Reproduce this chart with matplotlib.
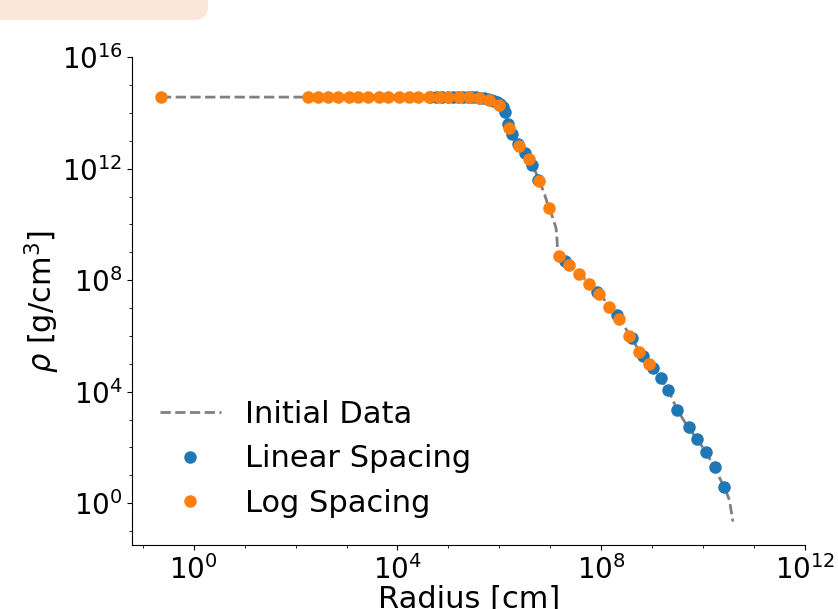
import numpy as np
import matplotlib
matplotlib.use("Agg")
import matplotlib.pyplot as plt
from matplotlib.patches import FancyBboxPatch
from matplotlib.ticker import NullFormatter

# log10 values
init_logr = [-0.64, 5.42, 5.62, 5.81, 5.95, 6.05, 6.11, 6.17, 6.25, 6.36, 6.50, 6.64, 6.78,
             6.89, 6.97, 7.05, 7.11, 7.13, 7.14, 7.19, 7.31, 7.38, 7.58, 7.78, 7.97, 8.17,
             8.37, 8.56, 8.76, 8.96, 9.15, 9.31, 9.49, 9.70, 9.88, 10.05, 10.21, 10.41,
             10.51, 10.58]
init_logrho = [14.57, 14.57, 14.55, 14.49, 14.39, 14.21, 14.03, 13.63, 13.24, 12.88, 12.56,
               12.16, 11.59, 11.05, 10.59, 10.23, 9.87, 9.44, 9.01, 8.85, 8.69, 8.54, 8.22,
               7.86, 7.50, 7.04, 6.61, 6.00, 5.42, 4.99, 4.49, 4.06, 3.34, 2.73, 2.30, 1.84,
               1.30, 0.58, 0.12, -0.66]

lin_logr = [4.64, 4.75, 4.87, 4.99, 5.09, 5.19, 5.28, 5.38, 5.46, 5.54, 5.62, 5.70, 5.78,
            5.83, 5.89, 5.95, 6.01, 6.06, 6.11, 6.16, 6.25, 6.37, 6.50, 6.63, 6.76, 7.29,
            7.92, 8.30, 8.60, 8.82, 9.01, 9.17, 9.31, 9.49, 9.71, 9.88, 10.05, 10.22, 10.41]
lin_logrho = [14.56, 14.56, 14.56, 14.56, 14.56, 14.56, 14.56, 14.56, 14.56, 14.56, 14.55,
              14.53, 14.50, 14.47, 14.43, 14.39, 14.32, 14.22, 14.02, 13.62, 13.23, 12.88,
              12.55, 12.15, 11.61, 8.69, 7.57, 6.75, 5.94, 5.28, 4.86, 4.48, 4.06, 3.34,
              2.74, 2.29, 1.85, 1.31, 0.57]

log_logr = [-0.64, 2.25, 2.45, 2.64, 2.84, 3.04, 3.23, 3.43, 3.63, 3.82, 4.02, 4.22, 4.41,
            4.61, 4.81, 5.00, 5.20, 5.40, 5.59, 5.79, 5.99, 6.18, 6.38, 6.58, 6.77, 6.97,
            7.17, 7.36, 7.56, 7.76, 7.95, 8.15, 8.35, 8.55, 8.74, 8.94]
log_logrho = [14.57, 14.58, 14.58, 14.58, 14.58, 14.58, 14.58, 14.58, 14.58, 14.58, 14.58,
              14.58, 14.58, 14.58, 14.58, 14.58, 14.58, 14.58, 14.54, 14.48, 14.30, 13.47,
              12.81, 12.34, 11.55, 10.59, 8.86, 8.54, 8.22, 7.87, 7.49, 7.05, 6.60, 6.00,
              5.43, 4.99]

fig = plt.figure(figsize=(8.38, 6.09), dpi=100)

# faint tab left over at the top-left of the reference image
tab = FancyBboxPatch((-20, 589), 228, 40, boxstyle="round,pad=0,rounding_size=14",
                     transform=None, facecolor="#fbe6da", edgecolor="none")
fig.patches.append(tab)

ax = fig.add_axes([0.158, 0.105, 0.803, 0.801])

ax.plot(10.0 ** np.array(init_logr), 10.0 ** np.array(init_logrho), '--', color='gray',
        lw=2, label='Initial Data', zorder=1)
ax.plot(10.0 ** np.array(lin_logr), 10.0 ** np.array(lin_logrho), 'o', color='#1f77b4',
        ms=8, label='Linear Spacing', zorder=2)
ax.plot(10.0 ** np.array(log_logr), 10.0 ** np.array(log_logrho), 'o', color='#ff7f0e',
        ms=8, label='Log Spacing', zorder=3)

ax.set_xscale('log')
ax.set_yscale('log')
ax.set_xlim(10 ** -1.2, 1e12)
ax.set_ylim(10 ** -1.5, 1e16)

ax.set_xticks(10.0 ** np.arange(0, 13, 4))
ax.set_xticks(10.0 ** np.arange(-1, 12), minor=True)
ax.set_yticks(10.0 ** np.arange(0, 17, 4))
ax.set_yticks(10.0 ** np.arange(-1, 16), minor=True)
ax.xaxis.set_minor_formatter(NullFormatter())
ax.yaxis.set_minor_formatter(NullFormatter())
ax.tick_params(labelsize=20)

ax.spines['top'].set_visible(False)
ax.spines['right'].set_visible(False)

ax.set_xlabel('Radius [cm]', fontsize=22, labelpad=0)
ax.set_ylabel(r'$\rho$ [g/cm$^3$]', fontsize=22, labelpad=0)

ax.legend(loc='lower left', frameon=False, fontsize=22, numpoints=1)

fig.savefig('out.png', dpi=100)
